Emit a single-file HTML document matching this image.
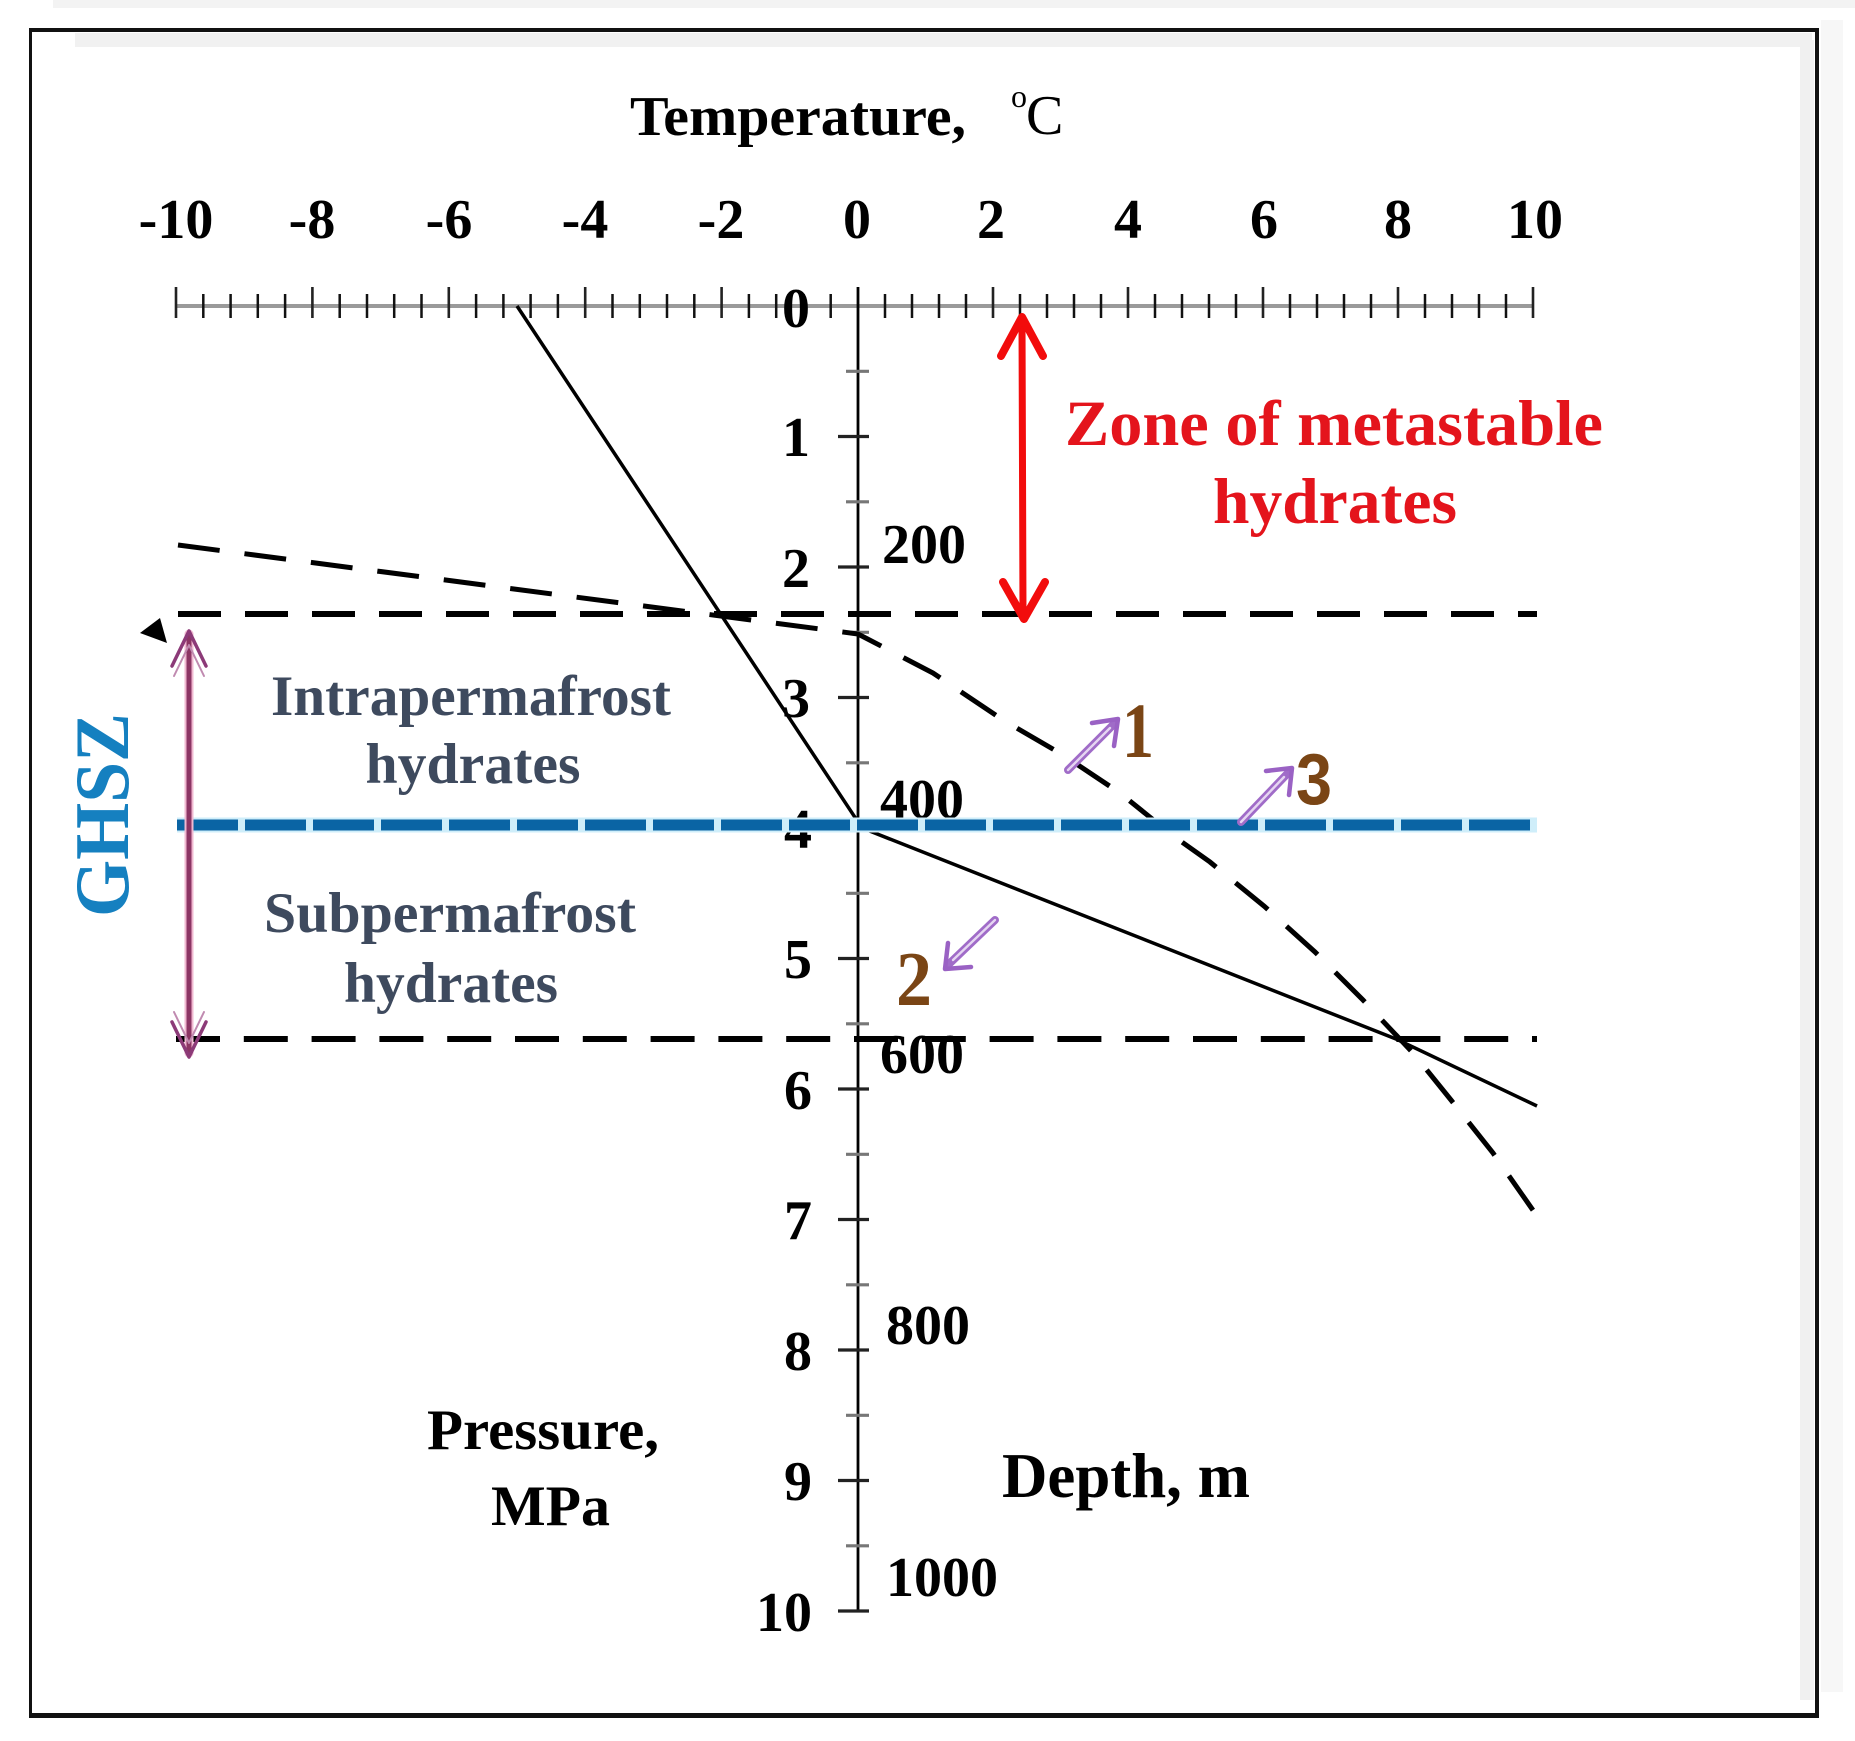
<!DOCTYPE html>
<html>
<head>
<meta charset="utf-8">
<style>
  html,body{margin:0;padding:0;background:#fff;}
  svg{display:block;}
  text{font-family:"Liberation Serif","Times New Roman",serif;font-weight:bold;}
</style>
</head>
<body>
<svg width="1855" height="1741" viewBox="0 0 1855 1741" xmlns="http://www.w3.org/2000/svg">
  <rect x="0" y="0" width="1855" height="1741" fill="#fff"/>
  <!-- subtle gray bands -->
  <rect x="53" y="0" width="1802" height="8" fill="#f3f3f3"/>
  <rect x="75" y="33" width="1737" height="14" fill="#f1f1f1"/>
  <rect x="1800" y="40" width="14" height="1660" fill="#f0f0f0"/>
  <rect x="1821" y="20" width="22" height="1672" fill="#f7f7f7"/>

  <!-- frame -->
  <rect x="29" y="28" width="1789" height="4" fill="#111"/>
  <rect x="29" y="28" width="3" height="1690" fill="#111"/>
  <rect x="1815" y="28" width="4" height="1690" fill="#111"/>
  <rect x="29" y="1713" width="1790" height="5" fill="#111"/>

  <!-- Title -->
  <text x="630" y="135" font-size="56" textLength="336" lengthAdjust="spacingAndGlyphs" fill="#000">Temperature,</text>
  <text x="1011" y="107" font-size="32" fill="#000" style="font-weight:normal">o</text>
  <text x="1026" y="134" font-size="56" fill="#000" style="font-weight:normal">C</text>

  <!-- Temperature tick labels -->
  <g font-size="56" fill="#000" text-anchor="middle">
    <text x="176" y="238">-10</text>
    <text x="312" y="238">-8</text>
    <text x="449" y="238">-6</text>
    <text x="585" y="238">-4</text>
    <text x="721" y="238">-2</text>
    <text x="857" y="238">0</text>
    <text x="991" y="238">2</text>
    <text x="1128" y="238">4</text>
    <text x="1264" y="238">6</text>
    <text x="1398" y="238">8</text>
    <text x="1535" y="238">10</text>
  </g>

  <!-- Top axis -->
  <line x1="176" y1="306" x2="1533" y2="306" stroke="#9a9a9a" stroke-width="4"/>
  <path d="M203.3 294V318M230.6 294V318M257.8 294V318M285.1 294V318M339.7 294V318M367 294V318M394.2 294V318M421.5 294V318M476.1 294V318M503.4 294V318M530.6 294V318M557.9 294V318M612.5 294V318M639.8 294V318M667 294V318M694.3 294V318M748.9 294V318M776.2 294V318M803.4 294V318M830.7 294V318M885 294V318M912 294V318M939 294V318M966 294V318M1020 294V318M1047 294V318M1074 294V318M1101 294V318M1155 294V318M1182 294V318M1209 294V318M1236 294V318M1290 294V318M1317 294V318M1344 294V318M1371 294V318M1425 294V318M1452 294V318M1479 294V318M1506 294V318" stroke="#111" stroke-width="2.5" fill="none"/>
  <path d="M176 287V318M312.4 287V318M448.8 287V318M585.2 287V318M721.6 287V318M993 287V318M1128 287V318M1263 287V318M1398 287V318M1533 287V318" stroke="#222" stroke-width="2.6" fill="none"/>

  <!-- Vertical axis -->
  <line x1="858" y1="287" x2="858" y2="1612" stroke="#000" stroke-width="2.8"/>
  <!-- Pressure ticks -->
  <path d="M838 436.5H869M838 567H869M838 697.5H869M838 828H869M838 958.5H869M838 1089H869M838 1219.5H869M838 1350H869M838 1480.5H869M838 1611H869" stroke="#222" stroke-width="3.2" fill="none"/>
  <path d="M846 371.3H869M846 501.8H869M846 632.3H869M846 762.8H869M846 893.3H869M846 1023.8H869M846 1154.3H869M846 1284.8H869M846 1415.3H869M846 1545.8H869" stroke="#777" stroke-width="3.2" fill="none"/>

  <!-- Pressure labels -->
  <g font-size="56" fill="#000" text-anchor="end">
    <text x="810" y="327">0</text>
    <text x="810" y="456">1</text>
    <text x="810" y="587">2</text>
    <text x="810" y="717">3</text>
    <text x="812" y="848">4</text>
    <text x="812" y="978">5</text>
    <text x="812" y="1109">6</text>
    <text x="812" y="1239">7</text>
    <text x="812" y="1370">8</text>
    <text x="812" y="1500">9</text>
    <text x="812" y="1631">10</text>
  </g>

  <!-- Depth labels -->
  <g font-size="56" fill="#000">
    <text x="882" y="563">200</text>
    <text x="880" y="818">400</text>
    <text x="880" y="1073">600</text>
    <text x="886" y="1344">800</text>
    <text x="886" y="1596">1000</text>
  </g>

  <!-- Horizontal dashed lines -->
  <line x1="178" y1="614" x2="1537" y2="614" stroke="#000" stroke-width="6" stroke-dasharray="43 24"/>
  <line x1="176" y1="1039" x2="1537" y2="1039" stroke="#000" stroke-width="6" stroke-dasharray="44 23.8"/>

  <!-- Dashed equilibrium curve -->
  <path d="M178 545 L858 634 L933 673 L1003 720 L1063 755 L1120 793 L1172 835 L1210 862 L1264 906 L1315 952 L1363 1000 L1413 1053 L1451 1100 L1493 1153 L1537 1216" fill="none" stroke="#000" stroke-width="5" stroke-dasharray="42 25"/>

  <!-- Solid temperature profile -->
  <path d="M517 306 L862 828 L1396 1039 L1537 1106" fill="none" stroke="#000" stroke-width="3.5"/>

  <!-- Blue dashed line (permafrost base) -->
  <line x1="177" y1="825" x2="1537" y2="825" stroke="#cfeefa" stroke-width="15"/>
  <line x1="177" y1="825" x2="1537" y2="825" stroke="#0a64a4" stroke-width="11" stroke-dasharray="61 7"/>

  <!-- Red double arrow -->
  <g stroke="#f20c0c" fill="none" stroke-linecap="round" stroke-linejoin="round">
    <line x1="1022" y1="322" x2="1023" y2="614" stroke-width="7"/>
    <polyline points="1001,356 1022,317 1043,356" stroke-width="8"/>
    <polyline points="1003,582 1024,619 1045,582" stroke-width="8"/>
  </g>

  <!-- Zone of metastable hydrates -->
  <g fill="#e4141c" font-size="65">
    <text x="1065" y="445" textLength="538" lengthAdjust="spacingAndGlyphs">Zone of metastable</text>
    <text x="1213" y="523" textLength="244" lengthAdjust="spacingAndGlyphs">hydrates</text>
  </g>

  <!-- GHSZ purple double arrow -->
  <g fill="none" stroke-linecap="round" stroke-linejoin="round">
    <line x1="189" y1="634" x2="189" y2="1053" stroke="#f0b8d0" stroke-width="9"/>
    <line x1="189" y1="634" x2="189" y2="1053" stroke="#8c3564" stroke-width="5"/>
    <polyline points="172,666 189,631 206,666" stroke="#8c3a78" stroke-width="3.5"/>
    <polyline points="174,676 189,645 204,676" stroke="#c08ab0" stroke-width="2"/>
    <polyline points="172,1022 189,1057 206,1022" stroke="#8c3a78" stroke-width="3.5"/>
    <polyline points="174,1012 189,1043 204,1012" stroke="#c08ab0" stroke-width="2"/>
  </g>
  <!-- small black triangle -->
  <polygon points="140,633 160,618 167,643" fill="#000"/>

  <!-- GHSZ label -->
  <text transform="translate(128,815) rotate(-90)" text-anchor="middle" font-size="77" fill="#1580c0" textLength="204" lengthAdjust="spacingAndGlyphs">GHSZ</text>

  <!-- region labels -->
  <g fill="#3e4a5e" font-size="57" text-anchor="middle">
    <text x="471" y="715" textLength="400" lengthAdjust="spacingAndGlyphs">Intrapermafrost</text>
    <text x="473" y="783" textLength="215" lengthAdjust="spacingAndGlyphs">hydrates</text>
    <text x="450" y="932" textLength="372" lengthAdjust="spacingAndGlyphs">Subpermafrost</text>
    <text x="451" y="1002" textLength="214" lengthAdjust="spacingAndGlyphs">hydrates</text>
  </g>

  <!-- purple small arrows 1,2,3 -->
  <g fill="none" stroke-linecap="round" stroke-linejoin="round">
    <line x1="1068" y1="770" x2="1114" y2="724" stroke="#a06cc8" stroke-width="8"/>
    <line x1="1068" y1="770" x2="1110" y2="728" stroke="#e6d6f2" stroke-width="2.4"/>
    <polyline points="1092,723 1118,719 1114,746" stroke="#9a62c4" stroke-width="4.5"/>

    <line x1="995" y1="920" x2="949" y2="964" stroke="#a06cc8" stroke-width="8"/>
    <line x1="995" y1="920" x2="953" y2="960" stroke="#e6d6f2" stroke-width="2.4"/>
    <polyline points="971,967 945,969 948,943" stroke="#9a62c4" stroke-width="4.5"/>

    <line x1="1241" y1="822" x2="1288" y2="773" stroke="#a06cc8" stroke-width="8"/>
    <line x1="1241" y1="822" x2="1284" y2="777" stroke="#e6d6f2" stroke-width="2.4"/>
    <polyline points="1266,771 1292,768 1289,795" stroke="#9a62c4" stroke-width="4.5"/>
  </g>
  <g fill="#7a4515">
    <text x="1122" y="757" font-size="78" textLength="32" lengthAdjust="spacingAndGlyphs">1</text>
    <text x="896" y="1005" font-size="77" textLength="36" lengthAdjust="spacingAndGlyphs">2</text>
    <text x="1296" y="804" font-size="72" textLength="36" lengthAdjust="spacingAndGlyphs" style="font-family:'Liberation Sans',sans-serif;font-weight:bold">3</text>
  </g>

  <!-- axis titles -->
  <g fill="#000">
    <text x="427" y="1449" font-size="57" textLength="232" lengthAdjust="spacingAndGlyphs">Pressure,</text>
    <text x="491" y="1525" font-size="57" textLength="119" lengthAdjust="spacingAndGlyphs">MPa</text>
    <text x="1002" y="1497" font-size="64" textLength="248" lengthAdjust="spacingAndGlyphs">Depth, m</text>
  </g>
</svg>
</body>
</html>
